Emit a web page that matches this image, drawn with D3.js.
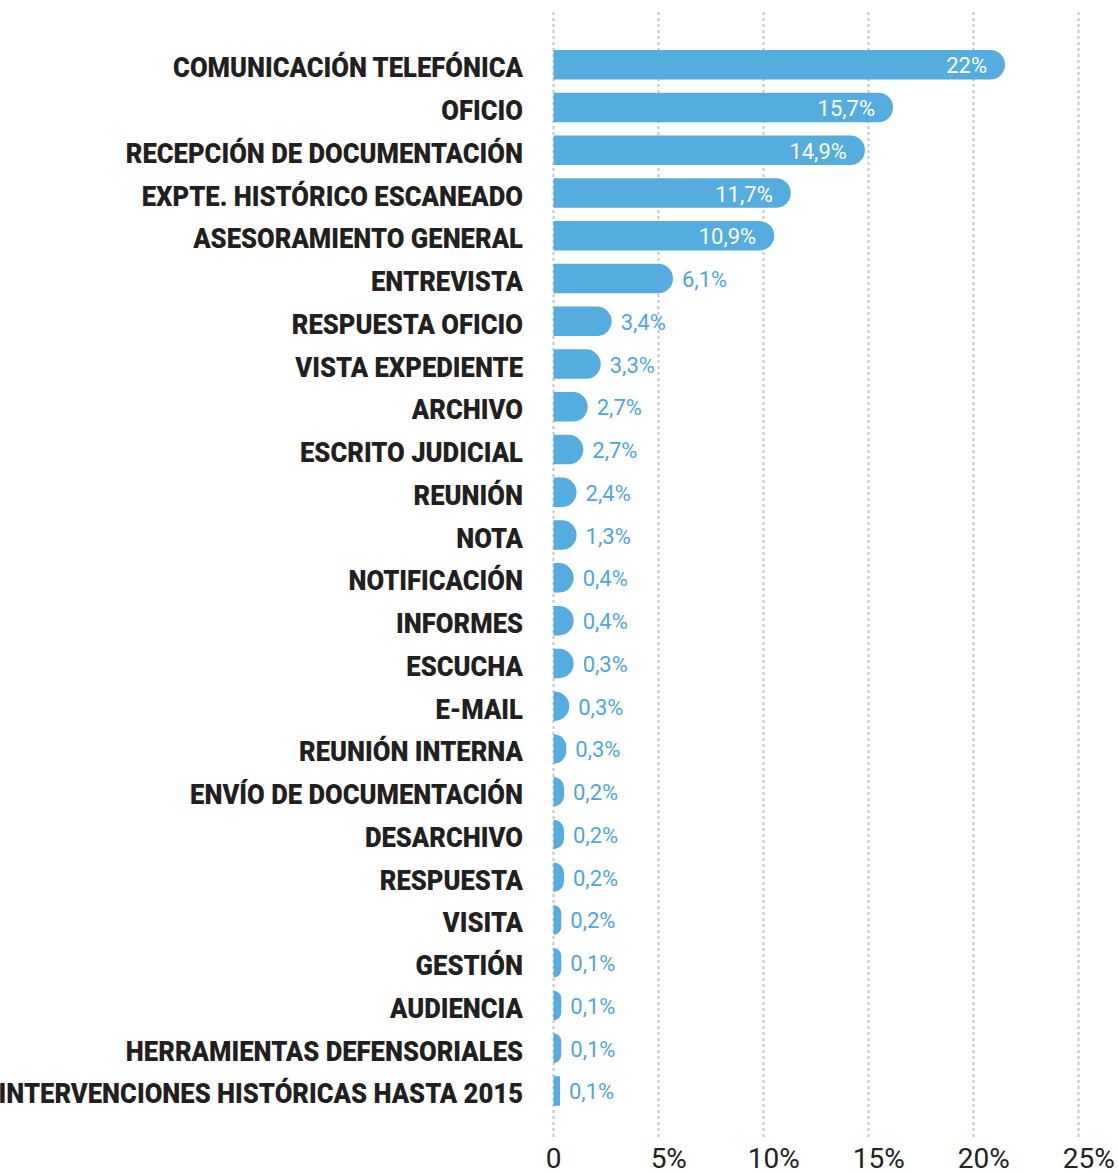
<!DOCTYPE html>
<html>
<head>
<meta charset="utf-8">
<script src="https://cdn.jsdelivr.net/npm/d3@7"></script>
<style>
  html, body { margin: 0; padding: 0; background: #ffffff; }
  svg { display: block; }
</style>
</head>
<body>
<svg id="chart" width="1118" height="1174"></svg>
<script>
// ---- DATA ----
const categories = [
  "COMUNICACIÓN TELEFÓNICA", "OFICIO", "RECEPCIÓN DE DOCUMENTACIÓN",
  "EXPTE. HISTÓRICO ESCANEADO", "ASESORAMIENTO GENERAL", "ENTREVISTA",
  "RESPUESTA OFICIO", "VISTA EXPEDIENTE", "ARCHIVO", "ESCRITO JUDICIAL",
  "REUNIÓN", "NOTA", "NOTIFICACIÓN", "INFORMES", "ESCUCHA", "E-MAIL",
  "REUNIÓN INTERNA", "ENVÍO DE DOCUMENTACIÓN", "DESARCHIVO", "RESPUESTA",
  "VISITA", "GESTIÓN", "AUDIENCIA", "HERRAMIENTAS DEFENSORIALES",
  "INTERVENCIONES HISTÓRICAS HASTA 2015"
];
// printed percentage labels
const valueLabels = [
  "22%", "15,7%", "14,9%", "11,7%", "10,9%", "6,1%", "3,4%", "3,3%", "2,7%",
  "2,7%", "2,4%", "1,3%", "0,4%", "0,4%", "0,3%", "0,3%", "0,3%", "0,2%",
  "0,2%", "0,2%", "0,2%", "0,1%", "0,1%", "0,1%", "0,1%"
];
// bar lengths as drawn against the axis (in %)
const barValues = [
  21.5, 16.17, 14.83, 11.3, 10.51, 5.69, 2.77, 2.25, 1.63, 1.42,
  1.10, 1.10, 0.96, 0.96, 0.96, 0.75, 0.61, 0.50, 0.50, 0.50,
  0.37, 0.37, 0.37, 0.37, 0.31
];
const insideLabelMin = 10; // bars at or above this value carry a white label inside
const tickValues = [0, 5, 10, 15, 20, 25];
const tickLabels = ["0", "5%", "10%", "15%", "20%", "25%"];

// ---- LAYOUT ----
const svg = d3.select("#chart");
const BLUE = "#55acdf";
const LABEL_BLUE = "#4fa6dc";
const LABEL_RIGHT = 523;

const x = d3.scaleLinear().domain([0, 25]).range([553.5, 1078.5]);
const step = 42.76;
const y = d3.scaleBand()
  .domain(categories)
  .range([50 - step * 0.155, 50 - step * 0.155 + step * categories.length])
  .paddingInner(0.31)
  .paddingOuter(0.155);
const bh = y.bandwidth();

// grid lines
svg.append("g").selectAll("line")
  .data(tickValues)
  .join("line")
  .attr("x1", d => x(d)).attr("x2", d => x(d))
  .attr("y1", 12).attr("y2", 1137)
  .attr("stroke", "#c6c6c6")
  .attr("stroke-width", 2)
  .attr("stroke-dasharray", "3,3");

// tick labels (number part centred on the grid line)
const tickG = svg.append("g");
tickLabels.forEach((t, i) => {
  const num = t.replace("%", "");
  const txt = tickG.append("text")
    .attr("y", 1168)
    .attr("font-family", "Roboto, 'Open Sans', sans-serif")
    .attr("font-size", 28)
    .attr("fill", "#222222")
    .text(t);
  const w = txt.node().getSubStringLength(0, num.length);
  txt.attr("x", x(tickValues[i]) - w / 2);
});

// bars
const data = categories.map((c, i) => ({ c, v: barValues[i], label: valueLabels[i] }));

function barPath(d) {
  const x0 = x(0), x1 = x(d.v), y0 = y(d.c), y1 = y0 + bh;
  const w = x1 - x0;
  const r = w >= 7 ? Math.min(bh / 2, w) : 0;
  if (r === 0) return `M${x0},${y0}H${x1}V${y1}H${x0}Z`;
  return `M${x0},${y0}H${x1 - r}A${r},${r} 0 0 1 ${x1},${y0 + r}` +
         `V${y1 - r}A${r},${r} 0 0 1 ${x1 - r},${y1}H${x0}Z`;
}

svg.append("g").selectAll("path")
  .data(data)
  .join("path")
  .attr("d", barPath)
  .attr("fill", BLUE);

// category labels: heavy, horizontally condensed
const catG = svg.append("g");
const catTexts = catG.selectAll("text")
  .data(data)
  .join("text")
  .attr("x", 0)
  .attr("y", 0)
  .attr("text-anchor", "end")
  .attr("font-family", "Roboto, 'Open Sans', sans-serif")
  .attr("font-weight", 900)
  .attr("font-size", 28)
  .attr("fill", "#231f20")
  .text(d => d.c);
// condense factor so the first label spans like the reference (≈350px)
const firstW = catTexts.nodes()[0].getComputedTextLength();
const sx = 350 / firstW;
catTexts.attr("transform", d => `translate(${LABEL_RIGHT},${y(d.c) + bh / 2 + 12.5}) scale(${sx},1)`);

// value labels
svg.append("g").selectAll("text")
  .data(data)
  .join("text")
  .attr("x", d => d.v >= insideLabelMin ? x(d.v) - 18 : x(d.v) + 9)
  .attr("y", d => y(d.c) + bh / 2 + 8.5)
  .attr("text-anchor", d => d.v >= insideLabelMin ? "end" : "start")
  .attr("font-family", "Roboto, 'Open Sans', sans-serif")
  .attr("font-size", 22)
  .attr("fill", d => d.v >= insideLabelMin ? "#ffffff" : LABEL_BLUE)
  .text(d => d.label);
</script>
</body>
</html>
